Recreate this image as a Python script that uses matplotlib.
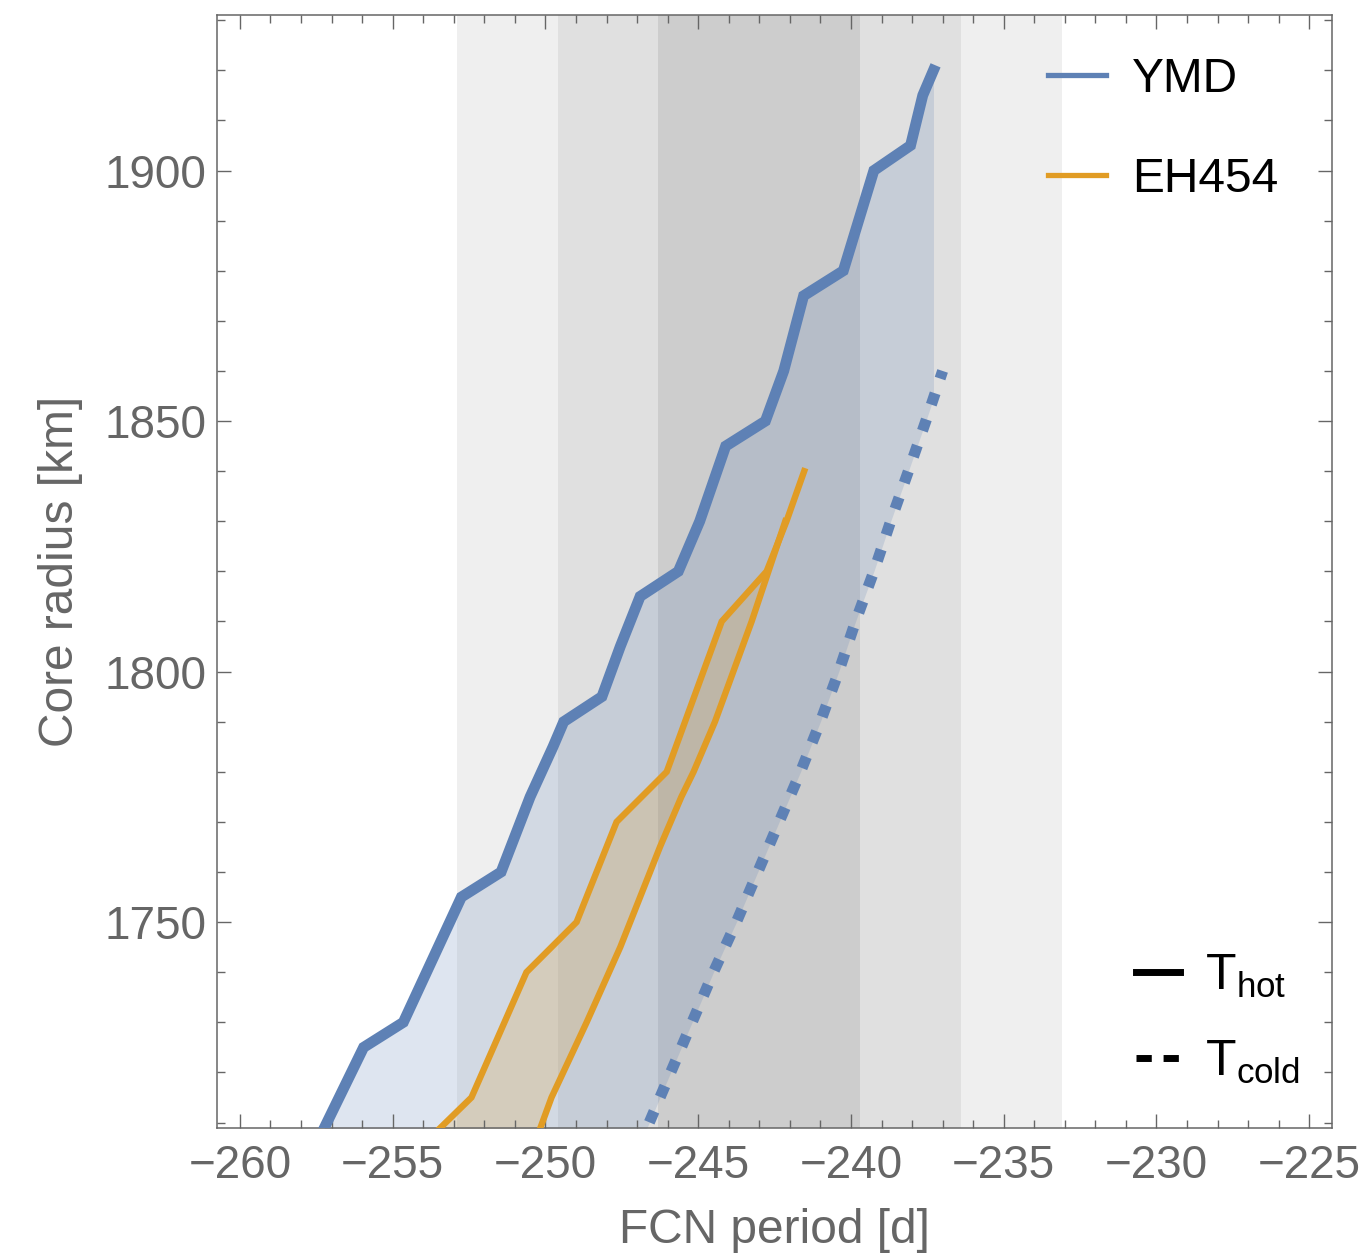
import matplotlib
matplotlib.use("Agg")
import matplotlib.pyplot as plt
import numpy as np
from matplotlib.lines import Line2D
from matplotlib.ticker import MultipleLocator

plt.rcParams['font.family'] = ['Liberation Sans', 'DejaVu Sans']
plt.rcParams['mathtext.fontset'] = 'custom'
plt.rcParams['mathtext.rm'] = 'Liberation Sans'

# YMD model, hot temperature profile (solid line)
ymd_hot_period = [-257.55, -255.95, -254.65, -252.75, -251.45, -250.5, -249.75, -249.4,
                  -248.15, -247.55, -246.9, -245.65, -244.95, -244.1, -242.8, -242.2,
                  -241.55, -240.25, -240.0, -239.25, -238.05, -237.65, -237.3]
ymd_hot_radius = [1705, 1725, 1730, 1755, 1760, 1775, 1785, 1790,
                  1795, 1805, 1815, 1820, 1830, 1845, 1850, 1860,
                  1875, 1880, 1885, 1900, 1905, 1915, 1920]

# YMD model, cold temperature profile (dotted line)
ymd_cold_period = [-246.96, -246.6, -245.9, -245.2, -244.5, -243.75, -243.05, -242.35,
                   -241.65, -241.0, -240.4, -239.85, -239.25, -238.7, -238.12, -237.55, -237.0]
ymd_cold_radius = [1705, 1710, 1720, 1730, 1740, 1750, 1760, 1770,
                   1780, 1790, 1800, 1810, 1820, 1830, 1840, 1850, 1860]

# EH454 model, hot and cold profiles
eh_hot_period = [-254.1, -252.42, -250.62, -248.98, -247.67, -246.03, -244.23, -242.76, -242.11, -241.53]
eh_hot_radius = [1705, 1715, 1740, 1750, 1770, 1780, 1810, 1820, 1830, 1840]
eh_cold_period = [-250.4, -249.8, -248.65, -247.55, -246.25, -245.55, -245.15, -244.45,
                  -243.85, -243.25, -242.7, -242.15]
eh_cold_radius = [1705, 1715, 1730, 1745, 1765, 1775, 1780, 1790,
                  1800, 1810, 1820, 1830]

# observed FCN period with 1, 2, 3 sigma bands
fcn_obs = -243.0
fcn_sigma = 3.3
band_colors = ['#efefef', '#e0e0e0', '#cdcdcd']

blue = '#5e81b5'
orange = '#e19c24'
gray = '#666666'

fig = plt.figure(figsize=(13.68, 12.57), dpi=100)
ax = fig.add_axes([0.1588, 0.1030, 0.8148, 0.8853])

for k, c in zip([3, 2, 1], band_colors):
    ax.axvspan(fcn_obs - k * fcn_sigma, fcn_obs + k * fcn_sigma, color=c, lw=0, zorder=0)


def fill_pair(hx, hr, cx, cr, color, z):
    # fill vertically between hot and cold curves, like Mathematica's Filling
    xs = np.linspace(hx[0], hx[-1], 800)
    top = np.interp(xs, hx, hr)
    bot = np.interp(xs, cx, cr, left=cr[0], right=np.nan)
    ok = ~np.isnan(bot)
    bot = np.where(ok, bot, top)
    ax.fill_between(xs, bot, top, where=ok, color=color, alpha=0.2, lw=0, zorder=z)


fill_pair(ymd_hot_period, ymd_hot_radius, ymd_cold_period, ymd_cold_radius, blue, 1)
fill_pair(eh_hot_period, eh_hot_radius, eh_cold_period, eh_cold_radius, orange, 1.5)

ax.plot(ymd_hot_period, ymd_hot_radius, color=blue, lw=7.8, solid_joinstyle='miter', zorder=3)
ax.plot(ymd_cold_period, ymd_cold_radius, color=blue, lw=8, linestyle=(0, (1.08, 1.4)),
        dash_capstyle='butt', zorder=3)
ax.plot(eh_hot_period, eh_hot_radius, color=orange, lw=4.6, solid_joinstyle='miter', zorder=3)
ax.plot(eh_cold_period, eh_cold_radius, color=orange, lw=4.6, solid_joinstyle='miter', zorder=3)

ax.set_xlim(-260.74, -224.26)
ax.set_ylim(1709.0, 1931.1)
ax.xaxis.set_major_locator(MultipleLocator(5))
ax.xaxis.set_minor_locator(MultipleLocator(1))
ax.yaxis.set_major_locator(MultipleLocator(50))
ax.yaxis.set_minor_locator(MultipleLocator(10))
ax.tick_params(which='both', direction='in', top=True, right=True, color=gray,
               labelcolor=gray, labelsize=33, width=1.0)
ax.tick_params(which='major', length=10)
ax.tick_params(which='minor', length=5.8)
ax.tick_params(axis='x', which='major', pad=11.5)
ax.tick_params(axis='y', which='major', pad=8)
for s in ax.spines.values():
    s.set_color(gray)
    s.set_linewidth(1.1)

ax.set_xlabel('FCN period [d]', fontsize=34.5, color=gray, labelpad=15)
ax.set_ylabel('Core radius [km]', fontsize=34.5, color=gray, labelpad=15.5)

handles1 = [Line2D([], [], color=blue, lw=3.8), Line2D([], [], color=orange, lw=3.8)]
leg1 = ax.legend(handles1, ['YMD', 'EH454'], loc='upper left', bbox_to_anchor=(0.745, 0.962),
                 frameon=False, fontsize=34.5, handlelength=1.21, handletextpad=0.55,
                 labelspacing=1.15, borderpad=0, borderaxespad=0)
ax.add_artist(leg1)

handles2 = [Line2D([], [], color='black', lw=5),
            Line2D([], [], color='black', lw=5, linestyle=(0, (2.2, 1.7)))]
ax.legend(handles2, [r'$\mathregular{T_{hot}}$', r'$\mathregular{T_{cold}}$'],
          loc='upper left', bbox_to_anchor=(0.824, 0.157), frameon=False, fontsize=36,
          handlelength=0.89, handletextpad=0.5, labelspacing=0.78, borderpad=0,
          borderaxespad=0)

fig.savefig('out.png', dpi=100)
